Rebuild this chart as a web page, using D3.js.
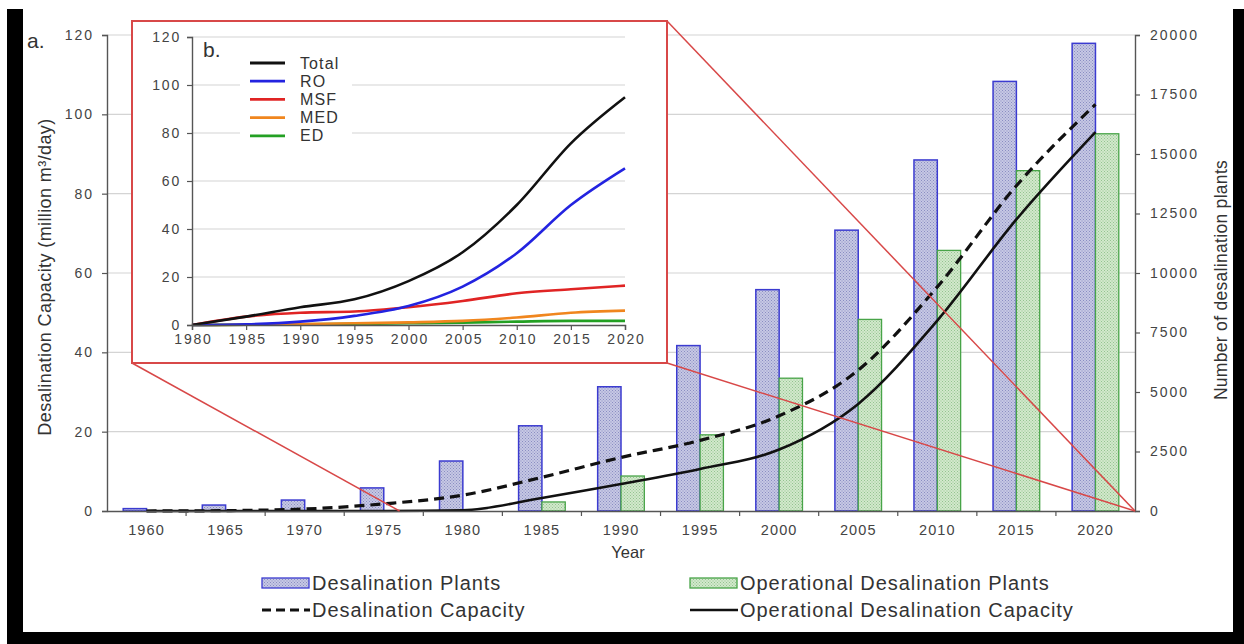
<!DOCTYPE html>
<html><head><meta charset="utf-8">
<script src="https://cdn.jsdelivr.net/npm/d3@7"></script>
<style>
body{margin:0;background:#fff}
svg{display:block}
text{font-family:"Liberation Sans",Arial,sans-serif}
</style>
</head><body>
<svg id="c" width="1244" height="644"></svg>
<script>
// ---------- data ----------
const years = ["1960","1965","1970","1975","1980","1985","1990","1995","2000","2005","2010","2015","2020"];
const plants = [100,250,460,970,2100,3580,5220,6950,9300,11800,14750,18050,19650];
const operationalPlants = [0,0,0,0,20,380,1470,3200,5580,8050,10950,14300,15850];
const capacity = [0,0.1,0.5,1.8,4.0,8.5,13.5,17.8,24.0,35.5,56.5,82.0,102.5];
const operationalCapacity = [0,0,0,0,0.2,3.3,6.8,10.6,15.5,27.0,48.0,73.5,95.5];
const leftTicks = [0,20,40,60,80,100,120];
const rightTicks = [0,2500,5000,7500,10000,12500,15000,17500,20000];

const insetYears = [1980,1985,1990,1995,2000,2005,2010,2015,2020];
const total = [0,3.5,7.4,10.7,18.3,30.3,50.0,75.7,94.9];
const ro    = [0,0.3,1.4,3.8,7.9,16.0,29.9,50.0,65.3];
const msf   = [0,3.5,5.1,5.6,7.4,10.0,13.2,14.9,16.4];
const med   = [0,0.1,0.4,0.7,1.1,1.7,3.1,5.1,6.0];
const ed    = [0,0.1,0.3,0.5,0.7,1.0,1.4,1.7,1.7];
const insetTicks = [0,20,40,60,80,100,120];
const insetSeries = [
  {name:"Total", values: total, color:"#111111"},
  {name:"RO",    values: ro,    color:"#2323e0"},
  {name:"MSF",   values: msf,   color:"#e02424"},
  {name:"MED",   values: med,   color:"#f0861e"},
  {name:"ED",    values: ed,    color:"#23a023"}
];

// ---------- setup ----------
const svg = d3.select("#c");
const defs = svg.append("defs");
function pattern(id, base, dot){
  const p = defs.append("pattern").attr("id",id).attr("width",3).attr("height",3)
    .attr("patternUnits","userSpaceOnUse");
  p.append("rect").attr("width",3).attr("height",3).attr("fill",base);
  p.append("rect").attr("x",0).attr("y",0).attr("width",1).attr("height",1).attr("fill",dot);
  p.append("rect").attr("x",1.5).attr("y",1.5).attr("width",1).attr("height",1).attr("fill",dot);
}
pattern("pb","#c6c8e4","#8a8dc2");
pattern("pg","#d2e8cc","#93c48f");

// frame
svg.append("rect").attr("x",7).attr("y",9).attr("width",16).attr("height",635).attr("fill","#000");
svg.append("rect").attr("x",1233).attr("y",9).attr("width",11).attr("height",635).attr("fill","#000");
svg.append("rect").attr("x",7).attr("y",632).attr("width",1237).attr("height",12).attr("fill","#000");

// ---------- main chart ----------
const M = {l:107, r:1135, t:35, b:511};
const x = d3.scaleBand().domain(years).range([M.l, M.r]).padding(0);
const bw = x.bandwidth();
const yL = d3.scaleLinear().domain([0,120]).range([M.b, M.t]);
const yR = d3.scaleLinear().domain([0,20000]).range([M.b, M.t]);
const xYear = d3.scaleLinear().domain([1960,2020]).range([x("1960")+bw/2, x("2020")+bw/2]);

// gridlines
svg.append("g").selectAll("line").data(leftTicks.filter(d=>d>0)).join("line")
  .attr("x1",M.l).attr("x2",M.r).attr("y1",d=>yL(d)).attr("y2",d=>yL(d))
  .attr("stroke","#d4d4d4").attr("stroke-width",1.2);

// bars
const barW = bw*0.295;
svg.append("g").selectAll("rect").data(years).join("rect")
  .attr("x",d=>x(d)+bw/2-barW).attr("width",barW)
  .attr("y",(d,i)=>yR(plants[i])).attr("height",(d,i)=>M.b-yR(plants[i]))
  .attr("fill","url(#pb)").attr("stroke","#3b3bd0").attr("stroke-width",1.5);
svg.append("g").selectAll("rect").data(years).join("rect")
  .attr("x",d=>x(d)+bw/2).attr("width",barW)
  .attr("y",(d,i)=>yR(operationalPlants[i])).attr("height",(d,i)=>M.b-yR(operationalPlants[i]))
  .attr("fill","url(#pg)").attr("stroke","#48a448").attr("stroke-width",1.3)
  .attr("display",(d,i)=>operationalPlants[i]>50?null:"none");

// lines
const lineMain = d3.line().x((d,i)=>x(years[i])+bw/2).y(d=>yL(d)).curve(d3.curveMonotoneX);
svg.append("path").attr("d",lineMain(capacity)).attr("fill","none")
  .attr("stroke","#111").attr("stroke-width",3.2).attr("stroke-dasharray","10,6");
svg.append("path").attr("d",lineMain(operationalCapacity)).attr("fill","none")
  .attr("stroke","#111").attr("stroke-width",2.6);

// axes
const axL = svg.append("g").attr("transform",`translate(${M.l},0)`)
  .call(d3.axisLeft(yL).tickValues(leftTicks).tickSize(5).tickPadding(8));
const axR = svg.append("g").attr("transform",`translate(${M.r},0)`)
  .call(d3.axisRight(yR).tickValues(rightTicks).tickFormat(d3.format("d")).tickSize(5).tickPadding(10));
const axB = svg.append("g").attr("transform",`translate(0,${M.b})`)
  .call(d3.axisBottom(x).tickSize(0).tickPadding(14));
// tick marks between categories
svg.append("g").selectAll("line").data(years.slice(1)).join("line")
  .attr("x1",d=>x(d)).attr("x2",d=>x(d)).attr("y1",M.b).attr("y2",M.b+5)
  .attr("stroke","#555").attr("stroke-width",1.2);
[axL,axR,axB].forEach(a=>{
  a.selectAll("path").attr("stroke","#555").attr("stroke-width",1.4);
  a.selectAll("line").attr("stroke","#555").attr("stroke-width",1.2);
  a.selectAll("text").attr("fill","#444").style("font-size","14px").style("letter-spacing","2px");
});
axB.selectAll("text").style("font-size","14.5px").style("letter-spacing","1.1px");

// connector lines from inset
const I = {x0:132, y0:21, x1:667, y1:363};
const conn = svg.append("g").attr("stroke","#d84848").attr("stroke-width",1.5).attr("fill","none");
conn.append("line").attr("x1",I.x0).attr("y1",I.y1).attr("x2",xYear(1976)).attr("y2",yL(0));
conn.append("line").attr("x1",I.x1).attr("y1",I.y0).attr("x2",xYear(2022.5)).attr("y2",yL(0));
conn.append("line").attr("x1",I.x1).attr("y1",I.y1).attr("x2",xYear(2022.5)).attr("y2",yL(0));

// titles
svg.append("text").attr("x",27).attr("y",48).text("a.").style("font-size","21px").attr("fill","#333");
svg.append("text").attr("transform",`translate(51,277) rotate(-90)`)
  .attr("text-anchor","middle").style("font-size","18px").style("letter-spacing","0.4px").attr("fill","#333")
  .text("Desalination Capacity (million m³/day)");
svg.append("text").attr("transform",`translate(1227,280) rotate(-90)`)
  .attr("text-anchor","middle").style("font-size","17.5px").style("letter-spacing","0.3px").attr("fill","#333")
  .text("Number of desalination plants");
svg.append("text").attr("x",628).attr("y",558).attr("text-anchor","middle")
  .style("font-size","16.5px").attr("fill","#333").text("Year");

// legend
const leg = svg.append("g");
const legItems = [
  {t:"Desalination Plants", type:"bar", fill:"url(#pb)", stroke:"#3b3bd0", x:262, y:583},
  {t:"Operational Desalination Plants", type:"bar", fill:"url(#pg)", stroke:"#48a448", x:690, y:583},
  {t:"Desalination Capacity", type:"dash", x:262, y:610},
  {t:"Operational Desalination Capacity", type:"solid", x:690, y:610}
];
legItems.forEach(it=>{
  if(it.type==="bar"){
    leg.append("rect").attr("x",it.x).attr("y",it.y-5).attr("width",47).attr("height",10)
      .attr("fill",it.fill).attr("stroke",it.stroke).attr("stroke-width",1.3);
  } else {
    leg.append("line").attr("x1",it.x).attr("x2",it.x+48).attr("y1",it.y).attr("y2",it.y)
      .attr("stroke","#111").attr("stroke-width",it.type==="dash"?3:2.6)
      .attr("stroke-dasharray",it.type==="dash"?"9,5":null);
  }
  leg.append("text").attr("x",it.x+50).attr("y",it.y+7).text(it.t)
    .style("font-size","20px").style("letter-spacing","0.95px").attr("fill","#333");
});

// ---------- inset ----------
svg.append("rect").attr("x",I.x0).attr("y",I.y0).attr("width",I.x1-I.x0).attr("height",I.y1-I.y0)
  .attr("fill","#fff").attr("stroke","#d84848").attr("stroke-width",2);
const N = {l:192, r:625, t:37, b:325};
const xi = d3.scaleLinear().domain([1980,2020]).range([N.l, N.r]);
const yi = d3.scaleLinear().domain([0,120]).range([N.b, N.t]);
svg.append("g").selectAll("line").data(insetTicks.filter(d=>d>0)).join("line")
  .attr("x1",N.l).attr("x2",N.r).attr("y1",d=>yi(d)).attr("y2",d=>yi(d))
  .attr("stroke","#d4d4d4").attr("stroke-width",1.2);
// legend background
svg.append("rect").attr("x",240).attr("y",52).attr("width",112).attr("height",92).attr("fill","#fff");

const lineI = d3.line().x((d,i)=>xi(insetYears[i])).y(d=>yi(d)).curve(d3.curveMonotoneX);
insetSeries.slice().reverse().forEach(s=>{
  svg.append("path").attr("d",lineI(s.values)).attr("fill","none")
    .attr("stroke",s.color).attr("stroke-width",2.6);
});
const aiL = svg.append("g").attr("transform",`translate(${N.l},0)`)
  .call(d3.axisLeft(yi).tickValues(insetTicks).tickSize(5).tickPadding(6));
const aiB = svg.append("g").attr("transform",`translate(0,${N.b})`)
  .call(d3.axisBottom(xi).tickValues(insetYears).tickFormat(d3.format("d")).tickSize(5).tickPadding(4));
[aiL,aiB].forEach(a=>{
  a.selectAll("path").attr("stroke","#555").attr("stroke-width",1.4);
  a.selectAll("line").attr("stroke","#555").attr("stroke-width",1.2);
  a.selectAll("text").attr("fill","#444").style("font-size","14px").style("letter-spacing","1.8px");
});
aiB.selectAll("text").attr("dx","1px");
svg.append("text").attr("x",203).attr("y",57).text("b.").style("font-size","21px").attr("fill","#333");
const il = svg.append("g");
insetSeries.forEach((s,i)=>{
  const yy = 63 + i*18.2;
  il.append("line").attr("x1",250).attr("x2",285).attr("y1",yy).attr("y2",yy)
    .attr("stroke",s.color).attr("stroke-width",2.8);
  il.append("text").attr("x",300).attr("y",yy+5.5).text(s.name)
    .style("font-size","16px").style("letter-spacing","1.1px").attr("fill","#333");
});
</script>
</body></html>
